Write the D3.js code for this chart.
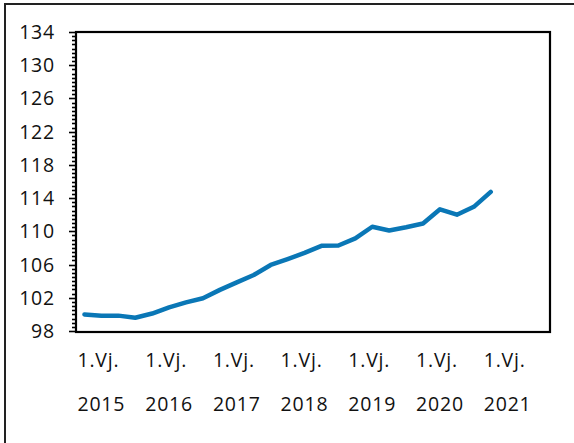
<!DOCTYPE html>
<html>
<head>
<meta charset="utf-8">
<script src="https://cdn.jsdelivr.net/npm/d3@7"></script>
<style>
  body { margin: 0; background: #fff; }
  text { font-family: "Open Sans", sans-serif; font-size: 19.5px; letter-spacing: 0.8px; fill: #111; }
</style>
</head>
<body>
<svg class="svg"></svg>
<script>
// quarters 2015 Q1 .. 2021 Q4 (axis covers full years, data stops at 2021 Q1)
const years = [2015, 2016, 2017, 2018, 2019, 2020, 2021];
const quarters = years.flatMap(y => [1, 2, 3, 4].map(q => `${y}Q${q}`));
const values = [
  100.0, 99.85, 99.85, 99.6,
  100.1, 100.85, 101.45, 101.95,
  102.95, 103.85, 104.75, 105.95,
  106.65, 107.4, 108.25, 108.3,
  109.15, 110.55, 110.1, 110.5,
  110.95, 112.65, 112.0, 112.95,
  114.75
];
const yTicks = [98, 102, 106, 110, 114, 118, 122, 126, 130, 134];
const quarterLabel = "1.Vj.";

const width = 574, height = 443;
const plot = { left: 76, top: 32, right: 550, bottom: 332 };

const svg = d3.select(".svg")
  .attr("width", width)
  .attr("height", height);

// outer frame (runs off the right and bottom edge)
svg.append("rect")
  .attr("x", 5).attr("y", 4)
  .attr("width", width + 10).attr("height", height + 10)
  .attr("fill", "none")
  .attr("stroke", "#222")
  .attr("stroke-width", 2);

const x = d3.scaleBand()
  .domain(quarters)
  .range([plot.left, plot.right]);

const y = d3.scaleLinear()
  .domain([98, 134])
  .range([plot.bottom - 1, plot.top]);

// minor ticks every 0.5
const minor = d3.range(98, 134.01, 0.5);
svg.append("g")
  .selectAll("line")
  .data(minor)
  .join("line")
  .attr("x1", plot.left)
  .attr("x2", d => plot.left - (d % 4 === 2 ? 7 : 4))
  .attr("y1", d => Math.round(y(d)) + 0.5)
  .attr("y2", d => Math.round(y(d)) + 0.5)
  .attr("stroke", "#000")
  .attr("stroke-width", 1.6);

svg.append("g")
  .selectAll("text")
  .data(yTicks)
  .join("text")
  .attr("x", 55)
  .attr("y", d => y(d))
  .attr("dy", "0.36em")
  .attr("text-anchor", "end")
  .text(d => d);

// plot frame
svg.append("rect")
  .attr("x", plot.left).attr("y", plot.top)
  .attr("width", plot.right - plot.left)
  .attr("height", plot.bottom - plot.top)
  .attr("fill", "none")
  .attr("stroke", "#000")
  .attr("stroke-width", 2.2);

// x labels at each first quarter
const xl = svg.append("g")
  .selectAll("g")
  .data(years)
  .join("g")
  .attr("transform", d => `translate(${x(d + "Q1") + x.bandwidth() / 2 - 7},0)`);

xl.append("text").attr("y", 367).text(quarterLabel);
xl.append("text").attr("y", 411).text(d => d);

const line = d3.line()
  .x((d, i) => x(quarters[i]) + x.bandwidth() / 2)
  .y(d => y(d));

svg.append("path")
  .datum(values)
  .attr("d", line)
  .attr("fill", "none")
  .attr("stroke", "#0a77b6")
  .attr("stroke-width", 4.5)
  .attr("stroke-linejoin", "round")
  .attr("stroke-linecap", "round");
</script>
</body>
</html>
